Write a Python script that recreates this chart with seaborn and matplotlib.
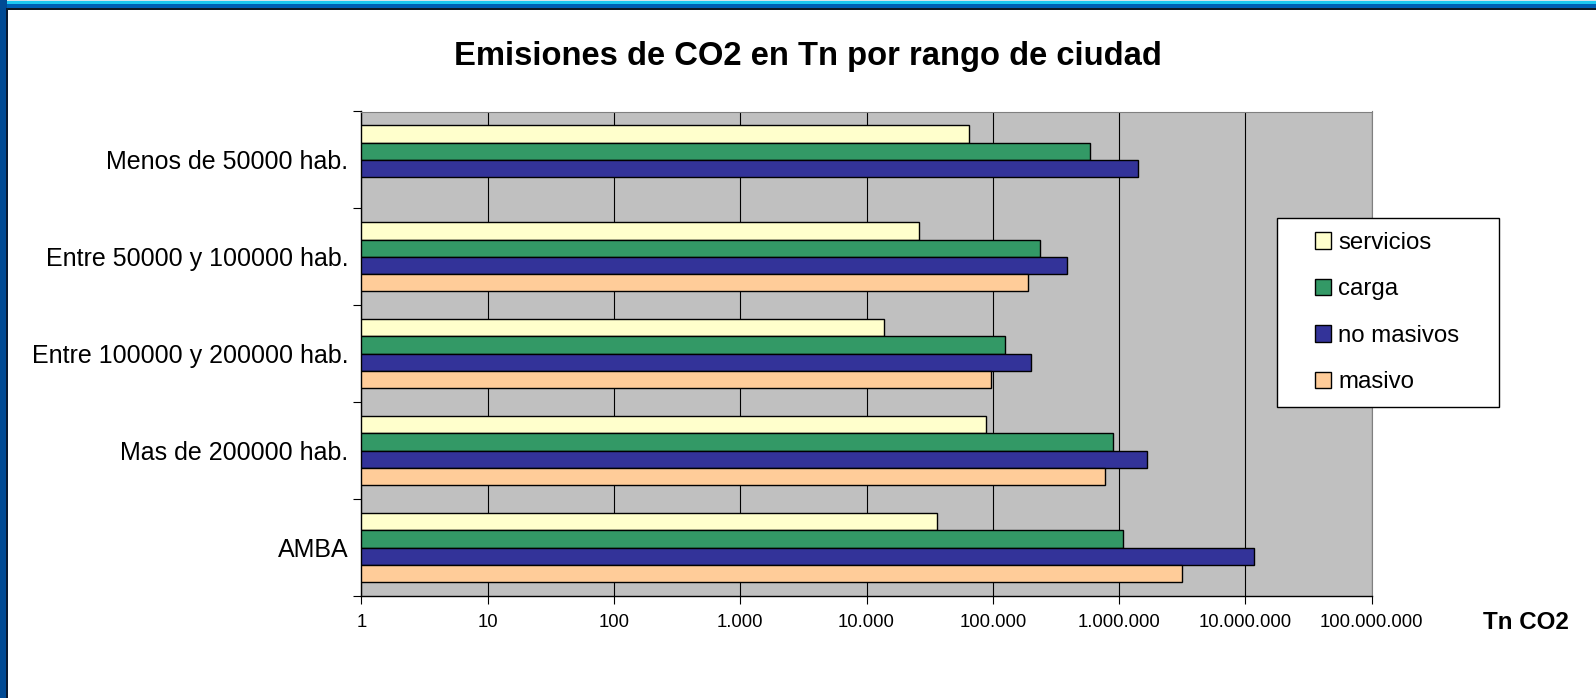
import numpy as np
import pandas as pd
import matplotlib
matplotlib.use("Agg")
import matplotlib.pyplot as plt
import seaborn as sns
from matplotlib.patches import Patch, Rectangle
from matplotlib.legend_handler import HandlerPatch
from matplotlib.ticker import FixedLocator, NullLocator

# ---------------- data ----------------
categories = ["Menos de 50000 hab.", "Entre 50000 y 100000 hab.",
              "Entre 100000 y 200000 hab.", "Mas de 200000 hab.", "AMBA"]
series_names = ["servicios", "carga", "no masivos", "masivo"]
servicios = [65000, 26000, 13700, 88500, 36400]
carga = [589000, 237000, 124000, 887000, 1070000]
no_masivos = [1420000, 384000, 201000, 1660000, 11700000]
masivo = [np.nan, 190000, 96000, 777000, 3120000]
xtick_values = [1, 10, 100, 1e3, 1e4, 1e5, 1e6, 1e7, 1e8]
xtick_labels = ["1", "10", "100", "1.000", "10.000", "100.000",
                "1.000.000", "10.000.000", "100.000.000"]
colors = ["#FFFFCC", "#339966", "#333399", "#FFCC99"]
title = "Emisiones de CO2 en Tn por rango de ciudad"
x_title = "Tn CO2"

rows = []
for name, vals in zip(series_names, [servicios, carga, no_masivos, masivo]):
    for cat, v in zip(categories, vals):
        rows.append({"rango": cat, "tipo": name, "valor": v})
df = pd.DataFrame(rows).dropna()

# ---------------- figure ----------------
sns.set_style("white")
plt.rcParams["font.family"] = ["Liberation Sans", "DejaVu Sans"]
plt.rcParams["text.color"] = "black"
plt.rcParams["xtick.color"] = "black"
plt.rcParams["ytick.color"] = "black"
plt.rcParams["axes.labelcolor"] = "black"

W, H = 1596, 698
fig = plt.figure(figsize=(W / 100, H / 100), dpi=100)
fig.patch.set_facecolor("white")

# window frame decoration (blue borders of the screenshot)
def px_rect(x0, y0, x1, y1, color):
    fig.patches.append(Rectangle((x0 / W, 1 - y1 / H), (x1 - x0) / W, (y1 - y0) / H,
                                 transform=fig.transFigure, facecolor=color,
                                 edgecolor="none", zorder=0))

px_rect(0, 0, W, 1.3, "#D8E4EC")
px_rect(0, 1.3, W, 4, "#1EC8F0")
px_rect(0, 4, W, 8, "#0060B4")
px_rect(0, 8, W, 10, "#101820")
px_rect(0, 0, 6.5, H, "#004A94")
px_rect(6.0, 8, 7.6, H, "#0A1A30")

L, R, T, B = 361.4, 1371.7, 111.5, 596
ax = fig.add_axes([L / W, 1 - B / H, (R - L) / W, (B - T) / H])
ax.set_facecolor("#C0C0C0")

sns.barplot(data=df, x="valor", y="rango", hue="tipo", order=categories,
            hue_order=series_names, palette=colors, width=0.714,
            edgecolor="black", linewidth=1.0, orient="h", legend=False,
            errorbar=None, saturation=1, ax=ax)

ax.set_xscale("log")
ax.set_xlim(1, 1e8)
ax.set_ylim(4.5, -0.5)
ax.xaxis.set_major_locator(FixedLocator(xtick_values))
ax.xaxis.set_minor_locator(NullLocator())
ax.set_xticklabels(xtick_labels, fontsize=13.3)
ax.set_yticks(range(len(categories)))
ax.set_yticklabels(categories, fontsize=18)
ax.set_yticks(np.arange(-0.5, len(categories), 1), minor=True)
ax.set_xlabel("")
ax.set_ylabel("")

ax.set_axisbelow(True)
ax.xaxis.grid(True, color="black", linewidth=0.8)
ax.yaxis.grid(False)

ax.tick_params(axis="x", which="major", direction="out", length=5.8, width=0.8,
               color="black", labelcolor="black", pad=7.0, bottom=True)
ax.tick_params(axis="y", which="major", length=0, pad=9.4, left=True,
               labelcolor="black")
ax.tick_params(axis="y", which="minor", direction="out", length=5.8, width=0.8,
               color="black", left=True)

for s in ["left", "bottom"]:
    ax.spines[s].set_color("black")
    ax.spines[s].set_linewidth(1.0)
for s in ["top", "right"]:
    ax.spines[s].set_color("#808080")
    ax.spines[s].set_linewidth(0.8)

# titles
fig.text(808 / W, 1 - 65 / H, title, ha="center", va="baseline",
         fontsize=23.6, fontweight="bold", color="black")
fig.text(1526 / W, 1 - 629 / H, x_title, ha="center", va="baseline",
         fontsize=17.4, fontweight="bold", color="black")

# legend
class SquareHandler(HandlerPatch):
    def create_artists(self, legend, orig_handle, xdescent, ydescent,
                       width, height, fontsize, trans):
        side = height
        p = Rectangle((-xdescent + width - side, -ydescent), side, side,
                      facecolor=orig_handle.get_facecolor(), edgecolor="black",
                      linewidth=1.0, transform=trans)
        return [p]

handles = [Patch(facecolor=c, edgecolor="black") for c in colors]
leg = fig.legend(handles, series_names, loc="upper left",
                 bbox_to_anchor=(1277 / W, 1 - 218 / H, (1499 - 1277) / W, 0),
                 mode="expand", borderaxespad=0, borderpad=0.58,
                 fontsize=17.3, handlelength=1.68, handleheight=0.665,
                 handletextpad=0.29, labelspacing=1.02,
                 handler_map={Patch: SquareHandler()},
                 frameon=True, fancybox=False, edgecolor="black",
                 framealpha=1.0, labelcolor="black")
leg.get_frame().set_linewidth(1.0)
leg.get_frame().set_facecolor("white")

fig.savefig("out.png", dpi=100)
